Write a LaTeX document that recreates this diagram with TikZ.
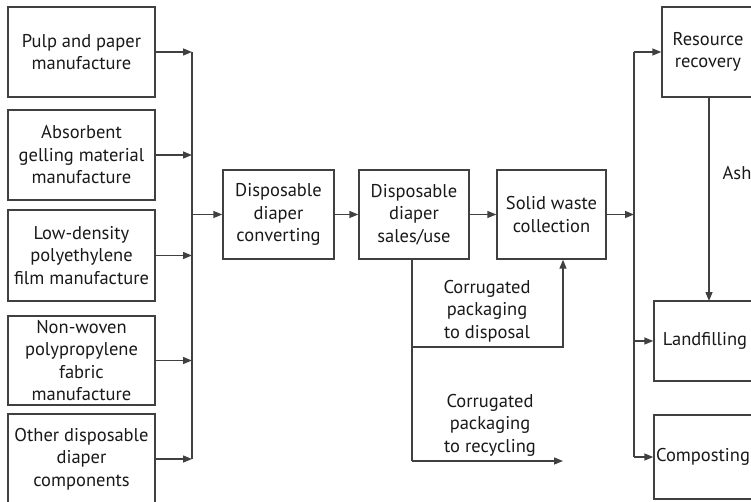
\documentclass[tikz,border=0pt]{standalone}
\usepackage{fontspec}
\setmainfont{PT Sans}
\usepackage{tikz}
\usetikzlibrary{arrows.meta, calc}

\begin{document}
\begin{tikzpicture}[x = 1pt, y = -1pt,
    font = \fontsize{18.5}{22.5}\selectfont,
    line width = 1.4pt, color = black!75, text = black!90,
    box/.style = {rectangle, draw, align = center, inner sep = 2pt},
    flow/.style = {-{Triangle[length = 9pt, width = 7pt]}},
    lbl/.style = {align = center, inner sep = 0pt}]

    \useasboundingbox (0,0) rectangle (751,502);
    \clip (0,0) rectangle (751,502);

    % inputs
    \node (pulp) [box, minimum width = 147pt, minimum height = 90pt] at (81.5, 52) {Pulp and paper\\manufacture};
    \node (agm) [box, minimum width = 147pt, minimum height = 90pt] at (81.5, 155) {Absorbent\\gelling material\\manufacture};
    \node (ldpe) [box, minimum width = 147pt, minimum height = 91pt] at (81.5, 255.5) {Low-density\\polyethylene\\film manufacture};
    \node (nonwoven) [box, minimum width = 147pt, minimum height = 89pt] at (81.5, 360.5) {Non-woven\\polypropylene\\fabric\\manufacture};
    \node (other) [box, minimum width = 147pt, minimum height = 90pt] at (81.5, 459) {Other disposable\\diaper\\components};

    % main chain
    \node (conv) [box, minimum width = 111pt, minimum height = 89pt] at (278.5, 214.5) {Disposable\\diaper\\converting};
    \node (sales) [box, minimum width = 110pt, minimum height = 89pt] at (414, 214.5) {Disposable\\diaper\\sales/use};
    \node (solid) [box, minimum width = 109pt, minimum height = 89pt] at (551.5, 214.5) {Solid waste\\collection};

    % end of life
    \node (res) [box, minimum width = 92pt, minimum height = 90pt] at (708, 52) {Resource\\recovery};
    \node (land) [box, minimum width = 102pt, minimum height = 80pt] at (705, 341) {Landfilling};
    \node (comp) [box, minimum width = 98pt, minimum height = 84pt, inner sep = 0pt] at (703, 457) {Composting};

    \coordinate (busL) at (192, 0);
    \coordinate (busR) at (634, 0);

    \foreach \n in {pulp, agm, ldpe, nonwoven, other}
    {
        \draw [flow] (\n.east) -- (\n.east -| busL);
    }
    \draw (pulp.east -| busL) -- (other.east -| busL);
    \draw [flow] (conv.west -| busL) -- (conv.west);
    \draw [flow] (conv) -- (sales);
    \draw [flow] (sales) -- (solid);

    \draw [flow] (solid.east) -- (solid.east -| busR);
    \draw (res.west -| busR) -- (comp.west -| busR);
    \foreach \n in {res, land, comp}
    {
        \draw [flow] (\n.west -| busR) -- (\n.west);
    }

    \draw [flow] (709, 97) -- (709, 301);
    \node (ash) [lbl] at (737, 173) {Ash};

    % corrugated packaging
    \coordinate (split) at ($(sales.south) + (-2, 0)$);
    \coordinate (disp) at (563, 347);
    \coordinate (recy) at (563, 461);
    \draw (split) -- (split |- recy);
    \draw [flow] (split |- disp) -- (disp) -- (disp |- solid.south);
    \draw [flow] (split |- recy) -- (recy);
    \node (disptext) [lbl] at (487, 311) {Corrugated\\packaging\\to disposal};
    \node (recytext) [lbl] at (490, 425) {Corrugated\\packaging\\to recycling};
\end{tikzpicture}
\end{document}
